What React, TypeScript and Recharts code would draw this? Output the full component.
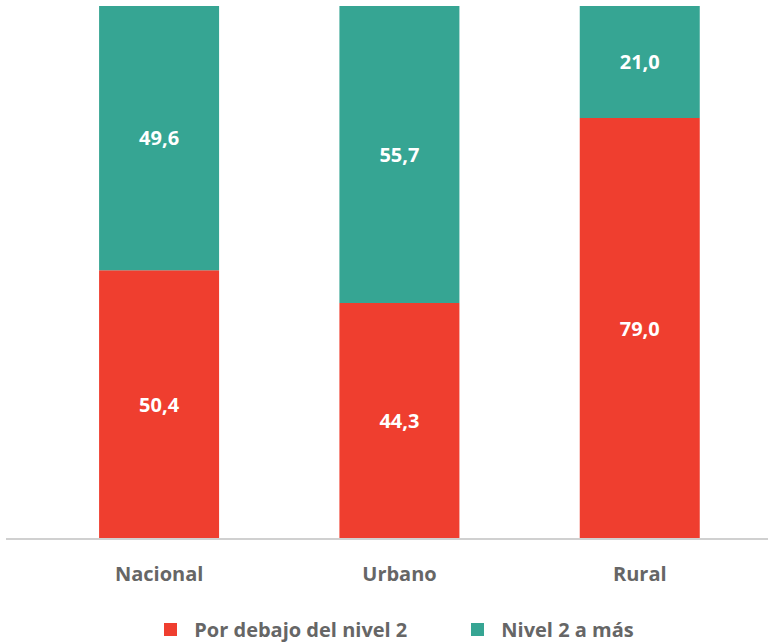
import React from 'react';
import { BarChart, Bar, XAxis, YAxis, Legend, LabelList } from 'recharts';

const categories = ['Nacional', 'Urbano', 'Rural'];
const belowLevel2 = [50.4, 44.3, 79.0];
const level2Plus = [49.6, 55.7, 21.0];

const RED = '#EF3E2F';
const TEAL = '#36A593';
const FONT = '"Open Sans", sans-serif';

const data = categories.map((name, i) => ({
  name,
  below: belowLevel2[i],
  above: level2Plus[i],
}));

const fmt = (v: any) => Number(v).toFixed(1).replace('.', ',');

const LegendContent = () => (
  <div style={{ display: 'flex', justifyContent: 'center', gap: 64, fontFamily: FONT, fontWeight: 700, fontSize: 20, color: '#666', paddingLeft: 24 }}>
    {[
      { label: 'Por debajo del nivel 2', color: RED },
      { label: 'Nivel 2 a más', color: TEAL },
    ].map((it) => (
      <div key={it.label} style={{ display: 'flex', alignItems: 'center' }}>
        <span style={{ display: 'inline-block', width: 13, height: 13, background: it.color, marginRight: 17 }} />
        <span>{it.label}</span>
      </div>
    ))}
  </div>
);

const labelStyle = { fontSize: 20, fontWeight: 700, fontFamily: FONT };

export default function App() {
  return (
    <div style={{ position: 'absolute', left: 0, top: 0, width: 768, height: 643, background: '#fff' }}>
      <BarChart width={768} height={643} data={data} margin={{ top: 6, right: 0, left: 6, bottom: 0 }} barCategoryGap="25%">
        <XAxis
          dataKey="name"
          axisLine={{ stroke: '#d0d0d0', strokeWidth: 2 }}
          tickLine={false}
          padding={{ left: 33, right: 8 }}
          height={77}
          tickMargin={22}
          tick={{ fill: '#666', fontSize: 20, fontWeight: 700, fontFamily: FONT }}
        />
        <YAxis hide domain={[0, 100]} />
        <Legend verticalAlign="bottom" content={<LegendContent />} />
        <Bar dataKey="below" stackId="a" fill={RED} isAnimationActive={false}>
          <LabelList dataKey="below" position="center" formatter={fmt} fill="#fff" style={labelStyle} />
        </Bar>
        <Bar dataKey="above" stackId="a" fill={TEAL} isAnimationActive={false}>
          <LabelList dataKey="above" position="center" formatter={fmt} fill="#fff" style={labelStyle} />
        </Bar>
      </BarChart>
    </div>
  );
}
